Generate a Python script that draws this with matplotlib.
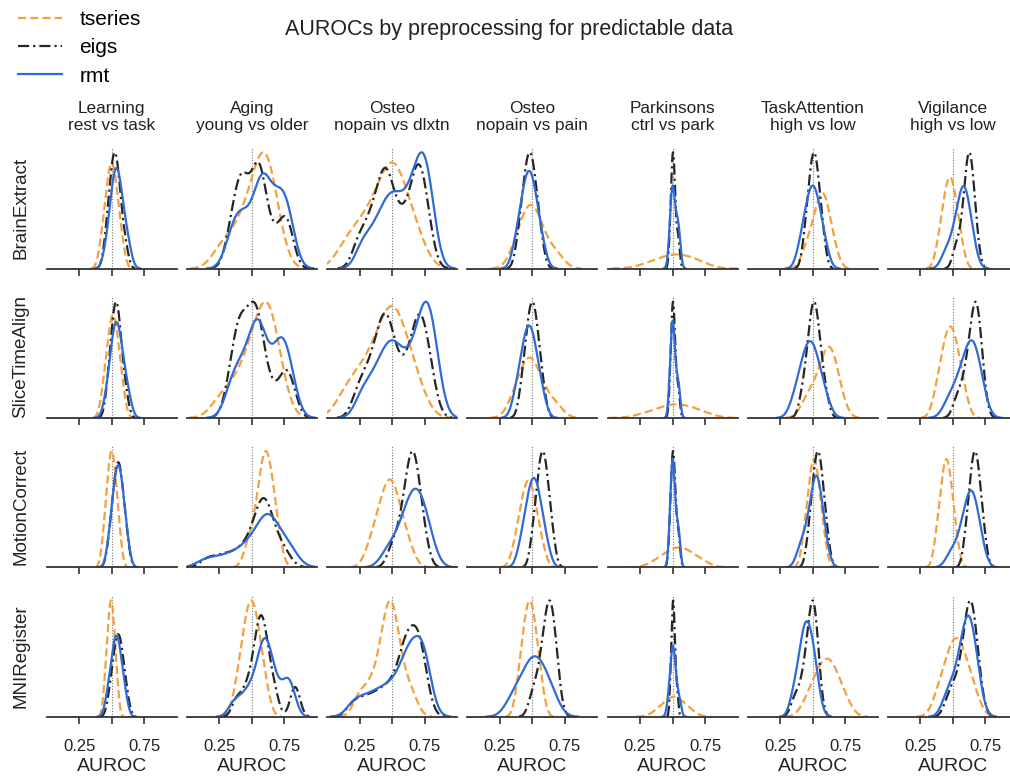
import matplotlib
matplotlib.use("Agg")
import matplotlib.pyplot as plt
import seaborn as sns

plt.rcParams['font.family'] = ['Liberation Sans', 'DejaVu Sans']

methods = ["tseries", "eigs", "rmt"]
steps = ["BrainExtract", "SliceTimeAlign", "MotionCorrect", "MNIRegister"]
datasets = ["Learning\nrest vs task", "Aging\nyoung vs older", "Osteo\nnopain vs dlxtn",
            "Osteo\nnopain vs pain", "Parkinsons\nctrl vs park", "TaskAttention\nhigh vs low",
            "Vigilance\nhigh vs low"]
tick_values = [0.25, 0.5, 0.75]
tick_labels = ["0.25", "", "0.75"]

# AUROC samples (one list per dataset column) for each preprocessing step and feature type
brainextract_tseries = [
    [0.422, 0.448, 0.464, 0.475, 0.486, 0.495, 0.505, 0.514, 0.525, 0.536, 0.552, 0.578],
    [0.26, 0.36, 0.43, 0.48, 0.52, 0.55, 0.575, 0.595, 0.612, 0.63, 0.655, 0.69],
    [0.14, 0.24, 0.31, 0.37, 0.42, 0.46, 0.49, 0.51, 0.54, 0.58, 0.63, 0.70],
    [0.36, 0.40, 0.43, 0.455, 0.475, 0.49, 0.505, 0.525, 0.55, 0.58, 0.63, 0.70],
    [0.28, 0.36, 0.41, 0.45, 0.48, 0.51, 0.54, 0.57, 0.61, 0.64, 0.68, 0.75],
    [0.44, 0.48, 0.51, 0.53, 0.547, 0.561, 0.574, 0.587, 0.6, 0.614, 0.634, 0.67],
    [0.387, 0.417, 0.435, 0.448, 0.460, 0.472, 0.482, 0.494, 0.506, 0.519, 0.537, 0.567],
]
brainextract_eigs = [
    [0.456, 0.479, 0.493, 0.503, 0.512, 0.521, 0.529, 0.538, 0.547, 0.557, 0.575, 0.605],
    [0.33, 0.37, 0.40, 0.42, 0.435, 0.455, 0.50, 0.53, 0.545, 0.555, 0.57, 0.60, 0.65, 0.72, 0.76, 0.79],
    [0.24, 0.31, 0.36, 0.40, 0.43, 0.45, 0.47, 0.50, 0.55, 0.60, 0.65, 0.68, 0.70, 0.72, 0.74, 0.78],
    [0.393, 0.422, 0.439, 0.452, 0.464, 0.475, 0.485, 0.496, 0.508, 0.521, 0.538, 0.567],
    [0.482, 0.490, 0.495, 0.499, 0.502, 0.505, 0.508, 0.511, 0.515, 0.522, 0.538, 0.548],
    [0.437, 0.462, 0.476, 0.487, 0.497, 0.506, 0.514, 0.523, 0.533, 0.544, 0.558, 0.583],
    [0.52, 0.56, 0.585, 0.60, 0.61, 0.617, 0.624, 0.632, 0.641, 0.65, 0.662, 0.683],
]
brainextract_rmt = [
    [0.46, 0.49, 0.505, 0.515, 0.525, 0.535, 0.545, 0.555, 0.567, 0.58, 0.60, 0.63],
    [0.33, 0.38, 0.41, 0.45, 0.50, 0.54, 0.565, 0.58, 0.595, 0.62, 0.655, 0.69, 0.72, 0.745, 0.77, 0.80],
    [0.27, 0.35, 0.41, 0.45, 0.49, 0.52, 0.56, 0.60, 0.64, 0.67, 0.70, 0.72, 0.74, 0.76, 0.78, 0.81],
    [0.371, 0.406, 0.426, 0.442, 0.456, 0.469, 0.481, 0.494, 0.508, 0.524, 0.544, 0.579],
    [0.478, 0.487, 0.493, 0.498, 0.502, 0.506, 0.51, 0.516, 0.53, 0.538, 0.545, 0.555],
    [0.40, 0.433, 0.452, 0.468, 0.481, 0.494, 0.506, 0.519, 0.532, 0.548, 0.567, 0.60],
    [0.44, 0.49, 0.52, 0.54, 0.555, 0.57, 0.58, 0.59, 0.60, 0.615, 0.63, 0.66],
]

slicetime_tseries = [
    [0.434, 0.459, 0.474, 0.486, 0.496, 0.506, 0.514, 0.524, 0.534, 0.546, 0.561, 0.586],
    [0.26, 0.37, 0.44, 0.49, 0.53, 0.565, 0.59, 0.61, 0.628, 0.646, 0.67, 0.71],
    [0.14, 0.24, 0.31, 0.37, 0.42, 0.46, 0.49, 0.51, 0.54, 0.58, 0.63, 0.70],
    [0.35, 0.39, 0.42, 0.445, 0.465, 0.48, 0.495, 0.515, 0.54, 0.57, 0.62, 0.69],
    [0.27, 0.35, 0.41, 0.45, 0.48, 0.51, 0.54, 0.57, 0.61, 0.65, 0.69, 0.76],
    [0.44, 0.49, 0.53, 0.56, 0.585, 0.603, 0.617, 0.632, 0.647, 0.662, 0.682, 0.72],
    [0.37, 0.406, 0.427, 0.444, 0.459, 0.473, 0.487, 0.501, 0.516, 0.533, 0.554, 0.59],
]
slicetime_eigs = [
    [0.469, 0.491, 0.504, 0.514, 0.523, 0.531, 0.539, 0.547, 0.556, 0.566, 0.582, 0.61],
    [0.33, 0.37, 0.395, 0.41, 0.425, 0.45, 0.49, 0.51, 0.522, 0.535, 0.55, 0.58, 0.63, 0.72, 0.77, 0.80],
    [0.24, 0.31, 0.36, 0.40, 0.43, 0.45, 0.47, 0.50, 0.55, 0.61, 0.66, 0.69, 0.71, 0.73, 0.76, 0.80],
    [0.417, 0.445, 0.461, 0.474, 0.485, 0.495, 0.505, 0.515, 0.526, 0.539, 0.555, 0.583],
    [0.482, 0.490, 0.495, 0.499, 0.502, 0.505, 0.508, 0.511, 0.515, 0.522, 0.538, 0.548],
    [0.42, 0.455, 0.472, 0.485, 0.496, 0.506, 0.514, 0.524, 0.535, 0.548, 0.565, 0.60],
    [0.53, 0.58, 0.61, 0.63, 0.648, 0.66, 0.67, 0.678, 0.687, 0.696, 0.708, 0.728],
]
slicetime_rmt = [
    [0.46, 0.49, 0.505, 0.515, 0.525, 0.535, 0.545, 0.555, 0.567, 0.58, 0.60, 0.63],
    [0.33, 0.38, 0.42, 0.46, 0.50, 0.525, 0.54, 0.555, 0.575, 0.61, 0.66, 0.70, 0.725, 0.745, 0.77, 0.81],
    [0.27, 0.35, 0.41, 0.45, 0.49, 0.52, 0.56, 0.61, 0.66, 0.70, 0.73, 0.75, 0.77, 0.79, 0.81, 0.84],
    [0.371, 0.406, 0.426, 0.442, 0.456, 0.469, 0.481, 0.494, 0.508, 0.524, 0.544, 0.579],
    [0.478, 0.487, 0.493, 0.497, 0.501, 0.504, 0.507, 0.511, 0.517, 0.532, 0.542, 0.552],
    [0.355, 0.397, 0.422, 0.44, 0.457, 0.473, 0.487, 0.503, 0.52, 0.538, 0.563, 0.605],
    [0.46, 0.515, 0.55, 0.58, 0.60, 0.62, 0.635, 0.65, 0.665, 0.68, 0.70, 0.73],
]

motion_tseries = [
    [0.438, 0.459, 0.471, 0.48, 0.488, 0.496, 0.504, 0.512, 0.52, 0.529, 0.541, 0.562],
    [0.47, 0.52, 0.55, 0.57, 0.585, 0.597, 0.607, 0.62, 0.635, 0.65, 0.67, 0.70],
    [0.33, 0.38, 0.41, 0.435, 0.455, 0.475, 0.49, 0.505, 0.525, 0.55, 0.58, 0.63],
    [0.366, 0.401, 0.421, 0.437, 0.451, 0.464, 0.476, 0.489, 0.503, 0.519, 0.539, 0.574],
    [0.36, 0.42, 0.46, 0.49, 0.515, 0.54, 0.56, 0.585, 0.61, 0.64, 0.68, 0.74],
    [0.432, 0.458, 0.474, 0.485, 0.496, 0.506, 0.514, 0.524, 0.535, 0.546, 0.562, 0.588],
    [0.372, 0.398, 0.414, 0.425, 0.436, 0.446, 0.454, 0.464, 0.475, 0.486, 0.502, 0.528],
]
motion_eigs = [
    [0.481, 0.504, 0.518, 0.528, 0.537, 0.546, 0.554, 0.563, 0.572, 0.582, 0.596, 0.619],
    [0.16, 0.26, 0.34, 0.41, 0.46, 0.50, 0.53, 0.55, 0.565, 0.578, 0.59, 0.60, 0.612, 0.625, 0.645, 0.67, 0.72, 0.76],
    [0.50, 0.56, 0.59, 0.615, 0.632, 0.645, 0.655, 0.667, 0.68, 0.695, 0.715, 0.75],
    [0.502, 0.528, 0.544, 0.555, 0.566, 0.576, 0.584, 0.594, 0.605, 0.616, 0.632, 0.658],
    [0.478, 0.488, 0.494, 0.498, 0.502, 0.505, 0.508, 0.512, 0.517, 0.524, 0.54, 0.55],
    [0.467, 0.492, 0.506, 0.517, 0.527, 0.536, 0.544, 0.553, 0.563, 0.574, 0.588, 0.613],
    [0.597, 0.622, 0.636, 0.647, 0.657, 0.666, 0.674, 0.683, 0.693, 0.704, 0.718, 0.743],
]
motion_rmt = [
    [0.479, 0.503, 0.517, 0.527, 0.537, 0.546, 0.554, 0.563, 0.573, 0.583, 0.597, 0.621],
    [0.14, 0.25, 0.34, 0.41, 0.46, 0.50, 0.54, 0.57, 0.59, 0.605, 0.62, 0.635, 0.65, 0.67, 0.70, 0.74, 0.78, 0.81],
    [0.46, 0.53, 0.58, 0.61, 0.635, 0.655, 0.675, 0.695, 0.715, 0.735, 0.76, 0.80],
    [0.41, 0.444, 0.464, 0.479, 0.492, 0.505, 0.517, 0.53, 0.543, 0.558, 0.578, 0.612],
    [0.478, 0.487, 0.493, 0.497, 0.501, 0.504, 0.507, 0.511, 0.517, 0.532, 0.542, 0.552],
    [0.40, 0.44, 0.47, 0.49, 0.505, 0.515, 0.525, 0.535, 0.545, 0.557, 0.572, 0.60],
    [0.48, 0.54, 0.57, 0.595, 0.61, 0.625, 0.637, 0.648, 0.66, 0.675, 0.693, 0.72],
]

mni_tseries = [
    [0.447, 0.463, 0.472, 0.48, 0.486, 0.492, 0.498, 0.504, 0.51, 0.518, 0.527, 0.543],
    [0.383, 0.42, 0.442, 0.459, 0.474, 0.489, 0.501, 0.516, 0.531, 0.548, 0.57, 0.607],
    [0.25, 0.33, 0.39, 0.43, 0.455, 0.472, 0.485, 0.498, 0.515, 0.54, 0.58, 0.65],
    [0.39, 0.42, 0.437, 0.45, 0.463, 0.475, 0.485, 0.497, 0.51, 0.523, 0.54, 0.57],
    [0.37, 0.415, 0.445, 0.468, 0.487, 0.502, 0.517, 0.535, 0.555, 0.578, 0.607, 0.65],
    [0.45, 0.50, 0.53, 0.555, 0.578, 0.598, 0.617, 0.636, 0.657, 0.68, 0.71, 0.76],
    [0.38, 0.425, 0.455, 0.48, 0.5, 0.518, 0.535, 0.553, 0.575, 0.598, 0.628, 0.675],
]
mni_eigs = [
    [0.482, 0.505, 0.518, 0.528, 0.538, 0.546, 0.554, 0.562, 0.572, 0.582, 0.595, 0.618],
    [0.38, 0.44, 0.48, 0.51, 0.53, 0.545, 0.557, 0.568, 0.578, 0.59, 0.603, 0.62, 0.645, 0.68, 0.82, 0.845],
    [0.20, 0.28, 0.35, 0.41, 0.46, 0.505, 0.545, 0.575, 0.595, 0.61, 0.622, 0.635, 0.655, 0.68, 0.695, 0.705, 0.715, 0.73, 0.755],
    [0.50, 0.545, 0.573, 0.592, 0.606, 0.618, 0.629, 0.639, 0.649, 0.66, 0.674, 0.696],
    [0.484, 0.491, 0.496, 0.5, 0.503, 0.505, 0.507, 0.51, 0.513, 0.518, 0.526, 0.538],
    [0.36, 0.41, 0.44, 0.46, 0.475, 0.487, 0.496, 0.503, 0.51, 0.518, 0.527, 0.543],
    [0.47, 0.52, 0.56, 0.59, 0.605, 0.618, 0.628, 0.638, 0.648, 0.66, 0.675, 0.70],
]
mni_rmt = [
    [0.466, 0.49, 0.504, 0.515, 0.524, 0.532, 0.54, 0.549, 0.558, 0.569, 0.583, 0.606],
    [0.36, 0.43, 0.48, 0.52, 0.55, 0.57, 0.585, 0.60, 0.612, 0.625, 0.645, 0.67, 0.71, 0.76, 0.785, 0.81],
    [0.20, 0.28, 0.35, 0.41, 0.46, 0.51, 0.55, 0.585, 0.61, 0.63, 0.645, 0.665, 0.69, 0.715, 0.73, 0.742, 0.755, 0.775],
    [0.33, 0.385, 0.425, 0.455, 0.48, 0.503, 0.523, 0.543, 0.566, 0.593, 0.625, 0.67],
    [0.468, 0.481, 0.49, 0.496, 0.5, 0.504, 0.507, 0.511, 0.517, 0.526, 0.54, 0.556],
    [0.35, 0.385, 0.407, 0.423, 0.435, 0.446, 0.457, 0.47, 0.485, 0.498, 0.513, 0.54],
    [0.45, 0.50, 0.54, 0.565, 0.585, 0.60, 0.613, 0.625, 0.638, 0.652, 0.67, 0.70],
]

samples = [
    [brainextract_tseries, brainextract_eigs, brainextract_rmt],
    [slicetime_tseries, slicetime_eigs, slicetime_rmt],
    [motion_tseries, motion_eigs, motion_rmt],
    [mni_tseries, mni_eigs, mni_rmt],
]

# smoothing (bandwidth multipliers) for the multi-modal curves: (row, col, method) -> factor
bw_adjust = {
    (0, 1, 1): 0.62, (0, 1, 2): 0.7, (0, 2, 0): 0.85, (0, 2, 1): 0.55, (0, 2, 2): 0.6,
    (1, 1, 1): 0.66, (1, 1, 2): 0.7, (1, 2, 0): 0.85, (1, 2, 1): 0.55, (1, 2, 2): 0.6,
    (2, 1, 1): 0.65, (2, 1, 2): 0.7,
    (3, 1, 1): 0.5, (3, 1, 2): 0.6, (3, 2, 0): 0.8, (3, 2, 1): 0.6, (3, 2, 2): 0.6,
}

# styles
colors = {"tseries": "#F5A03C", "eigs": "#262626", "rmt": "#2F6BD6"}
styles = {"tseries": (0, (3.7, 1.8)), "eigs": (0, (5, 1.8, 1, 1.8)), "rmt": "-"}
text_color = "#222222"

W, H = 1010, 777
fig = plt.figure(figsize=(W / 100, H / 100), dpi=100)

ax_w, ax_h = 130, 122
handles, labels = None, None
for i, step in enumerate(steps):
    base = 268.5 + 149.4 * i
    for j, ds in enumerate(datasets):
        left = 46.7 + 140.2 * j
        ax = fig.add_axes([left / W, 1 - base / H, ax_w / W, ax_h / H])
        for k, m in enumerate(methods):
            sns.kdeplot(x=samples[i][k][j], ax=ax, color=colors[m], linestyle=styles[m],
                        linewidth=1.6, label=m, bw_adjust=bw_adjust.get((i, j, k), 1.0))
        ax.axvline(0.5, color="#777777", linestyle=(0, (1, 1.5)), linewidth=0.8, zorder=0)
        ax.set_xlim(0, 1)
        ax.set_ylim(bottom=0)
        ax.set_yticks([])
        ax.set_ylabel("")
        for s in ["left", "top", "right"]:
            ax.spines[s].set_visible(False)
        ax.spines["bottom"].set_color("#333333")
        ax.spines["bottom"].set_linewidth(1.3)
        ax.set_xticks(tick_values)
        ax.tick_params(axis="x", direction="out", length=5, width=1.2, color="#333333",
                       labelsize=12, labelcolor=text_color, pad=11)
        if i == len(steps) - 1:
            ax.set_xticklabels(tick_labels)
            ax.set_xlabel("AUROC", fontsize=14, color=text_color, labelpad=3)
        else:
            ax.tick_params(labelbottom=False)
            ax.set_xlabel("")
        if i == 0:
            ax.set_title(ds, fontsize=12.4, color=text_color, pad=12, linespacing=1.15)
        if j == 0:
            fig.text(21 / W, 1 - (base - ax_h / 2) / H, step, rotation=90, ha="center",
                     va="center", fontsize=13.5, color=text_color)
        if i == 0 and j == 0:
            handles, labels = ax.get_legend_handles_labels()

fig.text(0.504, 1 - 30 / H, "AUROCs by preprocessing for predictable data",
         ha="center", va="center", fontsize=15.5, color=text_color)
fig.legend(handles, labels, loc="upper left", bbox_to_anchor=(18 / W, 1 - 10 / H),
           frameon=False, fontsize=15, borderaxespad=0, borderpad=0,
           handlelength=2.1, handletextpad=0.85, labelspacing=0.45)

fig.savefig("out.png", dpi=100)
